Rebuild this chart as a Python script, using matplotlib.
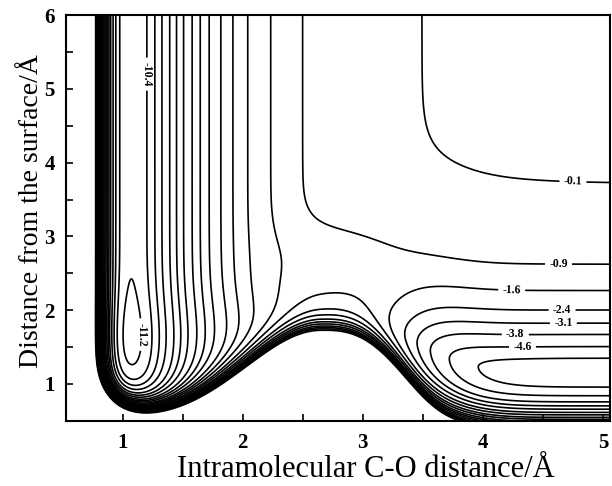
import numpy as np
import matplotlib.pyplot as plt

plt.rcParams['font.family'] = ['Liberation Serif', 'DejaVu Serif']
plt.rcParams['contour.negative_linestyle'] = 'solid'

# contour levels of the map (eV)
levels = [-11.2, -10.4, -9.7, -9.0, -8.2, -7.5, -6.8, -6.0, -5.3, -4.6,
          -3.8, -3.1, -2.4, -1.6, -0.9, -0.1, 0.6, 1.4, 2.1, 2.8, 3.6,
          4.3, 5.0, 5.8]

# model surface: C-O Morse (depth, r_e, alpha), atoms-surface Morse
co_morse = [11.13, 1.07, 2.23]
inner_wall = [0.876, 0.05]            # extra short-range C-O repulsion
ads_morse = [5.7, 1.17, 1.72, 1.1]    # depth, z_e, alpha out / in
ads_tail = [3.0, 1.5]                 # far-field fade of the atom well
mol_ads = [0.45, 1.6, 0.65]           # weak molecular adsorption well
ridge = [0.9, 0.2, 2.65, 2.02, 0.85, 0.96, 2.74]  # bases, centre, top, widths, power
corner = [0.48, 0.8, 0.2]             # wall lift near the inner corner
wall_soft = 0.15
switch = [3.45, 0.21]                 # bond-breaking switch centre, width
valley_shift = 0.35
saddle_dip = [0.75, 2.85, 2.7, 0.5, 0.5]

# labelled contours and where their labels sit
label_vals = [-11.2, -10.4, -4.6, -3.8, -3.1, -2.4, -1.6, -0.9, -0.1]
label_at = [(4.75, 3.76), (4.63, 2.68), (4.24, 2.3), (4.66, 2.03),
            (4.67, 1.83), (4.27, 1.64), (4.33, 1.43), (1.17, 1.67),
            (1.12, 5.2)]


def morse(r, depth, r0, alpha):
    return depth * ((1 - np.exp(-alpha * (r - r0))) ** 2 - 1)


x = np.linspace(0.5, 5.1, 800)
y = np.linspace(0.45, 6.05, 800)
X, Y = np.meshgrid(x, y)

bl, br, xc, top, wl, wr, pw = ridge
yw = np.where(X < xc,
              bl + (top - bl) * np.exp(-((X - xc) / wl) ** 2)
              + corner[0] * np.exp(-(X - corner[1]) / corner[2]),
              br + (top - br) * np.exp(-np.abs((X - xc) / wr) ** pw))
f = 1 / (1 + np.exp(-(X - switch[0]) / switch[1]))
ye = ads_morse[1] + valley_shift * (yw - br)
ads = morse(Y, ads_morse[0], ye,
            np.where(Y > ye, ads_morse[2], ads_morse[3]))
ads = ads * np.exp(-np.clip(Y - ads_tail[0], 0, None) ** 2 / ads_tail[1])
sm = -mol_ads[0] * np.exp(-((Y - mol_ads[1]) / mol_ads[2]) ** 2)
d0, dx, dy, dwx, dwy = saddle_dip

V = (morse(X, *co_morse)
     + np.exp(-(X - inner_wall[0]) / inner_wall[1])
     + f * ads
     + (1 - f) * sm
     - d0 * np.exp(-((X - dx) / dwx) ** 2 - ((Y - dy) / dwy) ** 2)
     + np.exp(-(Y - yw) / wall_soft))

fig = plt.figure(figsize=(6.12, 4.86), dpi=100)
ax = fig.add_axes([0.108, 0.134, 0.889, 0.835])

plain = [v for v in levels if v not in label_vals]
ax.contour(X, Y, V, levels=plain, colors='k', linewidths=1.2)
cs = ax.contour(X, Y, V, levels=label_vals, colors='k', linewidths=1.2)
ax.clabel(cs, manual=label_at, fmt='%.1f', fontsize=8.5,
          inline=True, inline_spacing=4)
for t in cs.labelTexts:
    t.set_fontweight('bold')

ax.set_xlim(0.53, 5.06)
ax.set_ylim(0.5, 6.0)
ax.set_xticks([1, 2, 3, 4, 5])
ax.set_xticks(np.arange(1.5, 5, 1.0), minor=True)
ax.set_yticks([1, 2, 3, 4, 5, 6])
ax.set_yticks(np.arange(1.5, 6, 1.0), minor=True)
ax.tick_params(which='both', direction='in', length=5, width=1.2,
               labelsize=15)
ax.tick_params(axis='x', pad=9)
ax.tick_params(axis='y', pad=8)
for lab in ax.get_xticklabels() + ax.get_yticklabels():
    lab.set_fontweight('bold')
for sp in ax.spines.values():
    sp.set_linewidth(1.5)

ax.set_xlabel('Intramolecular C-O distance/Å', fontsize=22)
ax.set_ylabel('Distance from the surface/Å', fontsize=20)
ax.xaxis.set_label_coords(0.55, -0.085)
ax.yaxis.set_label_coords(-0.04, 0.517)

fig.savefig('out.png', dpi=100)
